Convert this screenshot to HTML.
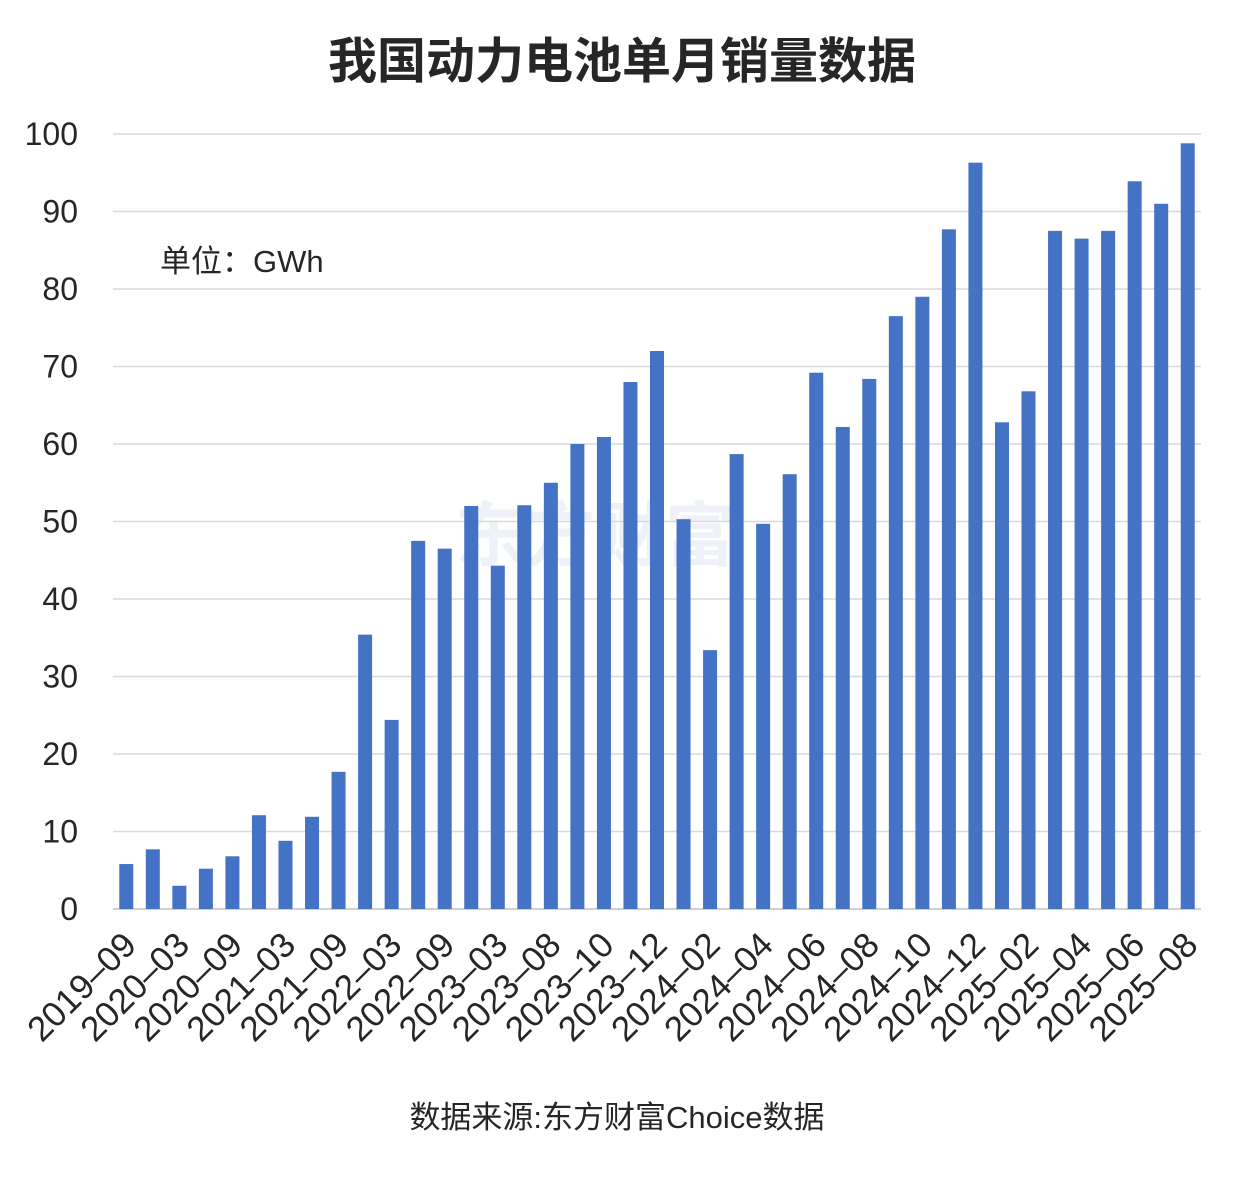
<!DOCTYPE html>
<html><head><meta charset="utf-8"><style>
body{margin:0;background:#fff;}
svg{display:block;font-family:"Liberation Sans","Noto Sans CJK SC",sans-serif;}
</style></head><body>
<svg width="1245" height="1192" viewBox="0 0 1245 1192" xmlns="http://www.w3.org/2000/svg">
<rect x="0" y="0" width="1245" height="1192" fill="#fff"/>
<text x="622" y="78" text-anchor="middle" font-size="49" font-weight="bold" fill="#262626">我国动力电池单月销量数据</text>
<text x="595" y="560" text-anchor="middle" font-size="70" font-weight="bold" fill="#eef2f8">东方财富</text>
<text x="160" y="272" font-size="31" fill="#262626">单位：GWh</text>
<g id="grid"></g><g id="yticks"></g><g id="bars"></g><g id="xticks"></g>
<text x="617" y="1128" text-anchor="middle" font-size="31" fill="#262626">数据来源:东方财富Choice数据</text>
</svg>
<script>
const categories=["2019-09","2019-12","2020-03","2020-06","2020-09","2020-12","2021-03","2021-06","2021-09","2021-12","2022-03","2022-06","2022-09","2022-12","2023-03","2023-06","2023-08","2023-09","2023-10","2023-11","2023-12","2024-01","2024-02","2024-03","2024-04","2024-05","2024-06","2024-07","2024-08","2024-09","2024-10","2024-11","2024-12","2025-01","2025-02","2025-03","2025-04","2025-05","2025-06","2025-07","2025-08"];
const values=[5.8,7.7,3.0,5.2,6.8,12.1,8.8,11.9,17.7,35.4,24.4,47.5,46.5,52.0,44.3,52.1,55.0,60.0,60.9,68.0,72.0,50.3,33.4,58.7,49.7,56.1,69.2,62.2,68.4,76.5,79.0,87.7,96.3,62.8,66.8,87.5,86.5,87.5,93.9,91.0,98.8];
const yTicks=[0,10,20,30,40,50,60,70,80,90,100];
const NS="http://www.w3.org/2000/svg";
const X0=113,X1=1201,Y0=909,Y1=134,yMax=100;
const band=(X1-X0)/categories.length;
const xC=i=>X0+band*(i+0.5);
const y=v=>Y0-(v/yMax)*(Y0-Y1);
function mk(t,a,p){const e=document.createElementNS(NS,t);for(const k in a)e.setAttribute(k,a[k]);p.appendChild(e);return e;}
const g=document.getElementById('grid'),yt=document.getElementById('yticks'),b=document.getElementById('bars'),xt=document.getElementById('xticks');
yTicks.forEach(v=>{
 const l=mk('line',{x1:X0,x2:X1,y1:y(v),y2:y(v),stroke:v===0?'#d0d0d0':'#d9d9d9','stroke-width':v===0?2:1.5},g);
 
 
 const t=mk('text',{x:78,y:y(v)+11,'text-anchor':'end','font-size':32,fill:'#262626'},yt);
 t.textContent=v;
 
 
});
values.forEach((v,i)=>{
 const r=mk('rect',{x:xC(i)-7,y:y(v),width:14,height:Y0-y(v),fill:'#4472c4'},b);
 
 
 if(i%2===0){
  const t=mk('text',{transform:`translate(${xC(i)+12},${Y0+38}) rotate(-45)`,'text-anchor':'end','font-size':35,fill:'#262626'},xt);
  t.textContent=categories[i].replace('-','–');
  
  
 }
});
</script>
</body></html>
